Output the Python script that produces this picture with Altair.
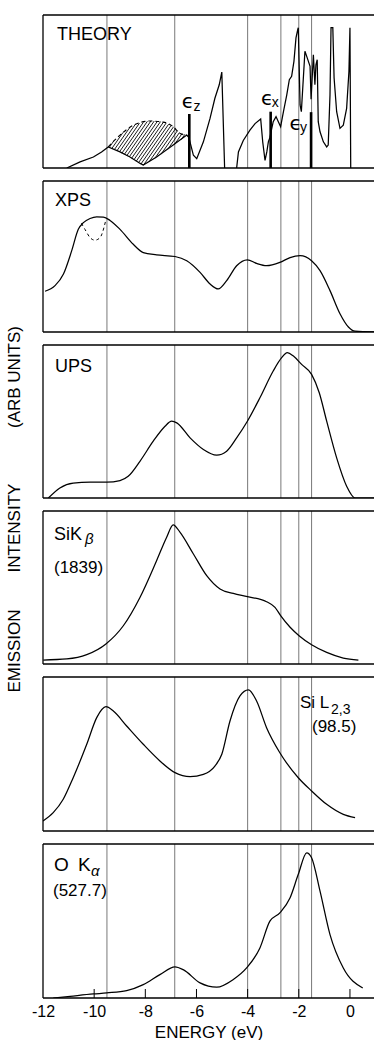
import altair as alt
import numpy as np
import pandas as pd

# ---------------- data ----------------
guide_E = [-9.5, -6.85, -4.0, -2.7, -2.0, -1.5]
tick_E = [-10, -8, -6, -4, -2, 0]
axis_values = [-12, -10, -8, -6, -4, -2, 0]

# THEORY (arb. units 0-100)
theory_a_E = [-11.07, -10.55, -10.03, -9.71, -9.45, -8.99, -8.6, -8.2, -8.08, -7.56, -6.91, -6.38,
              -6.3, -6.12, -5.99, -5.73, -5.47, -5.28, -5.11, -5.01, -4.9]
theory_a_I = [0, 4, 7.2, 10.5, 13.8, 10.5, 7.2, 3.0, 2.0, 7.2, 15.0, 21.5,
              20, 8.3, 6.1, 17.1, 32.4, 45.6, 54.4, 62.7, 0]
theory_b_E = [-4.43, -4.36, -4.17, -3.91, -3.71, -3.49, -3.41, -3.32, -3.25, -3.19, -3.13, -3.0,
              -2.89, -2.8, -2.71, -2.6, -2.47, -2.37, -2.28, -2.19, -2.11, -2.04, -2.02, -1.95,
              -1.9, -1.76, -1.67, -1.56, -1.52, -1.43, -1.37, -1.33, -1.28, -1.24, -1.17, -1.04,
              -0.91, -0.85, -0.78, -0.74, -0.67, -0.62, -0.52, -0.39, -0.26, -0.13, -0.04, 0.0, 0.03]
theory_b_I = [0, 10.5, 18, 24.8, 29, 32, 17, 5, 10.5, 17, 20, 30.3,
              33.6, 30.3, 27, 36.8, 47.8, 57.7, 59.9, 69.7, 85, 90.6, 91.7, 41.2,
              36.8, 76.3, 72, 66.4, 45, 74, 54.4, 67.5, 70.8, 30.3, 23.7, 17.1,
              13.8, 15, 47.8, 91.7, 91.7, 58.8, 36.8, 25.9, 28, 39, 63, 91.7, 0]
hatch_upper_E = [-9.45, -8.99, -8.47, -7.82, -7.3, -6.91, -6.64, -6.38]
hatch_upper_I = [13.8, 21.5, 28.0, 30.7, 30.0, 27.0, 22.6, 21.5]
eps_E = [-6.28, -3.10, -1.52]
eps_I = [35.3, 36.8, 36.5]

# XPS
xps_E = [-11.92, -11.53, -11.2, -10.88, -10.62, -10.42, -10.16, -9.9, -9.64, -9.38, -8.99, -8.47,
         -8.08, -7.56, -6.84, -6.38, -5.86, -5.47, -5.15, -4.82, -4.43, -4.01, -3.65, -3.26,
         -2.74, -2.34, -1.95, -1.5, -1.17, -0.78, -0.39, -0.06, 0.2, 0.95]
xps_I = [27, 30.7, 38.4, 53.7, 68, 72.4, 75.2, 76.3, 76.1, 73.9, 68, 58.1,
         52.6, 51.1, 50, 47.2, 39.5, 31.8, 28.5, 34, 43.9, 47.8, 45.4, 43.9,
         46.1, 49.3, 50.5, 47.2, 40.6, 27.4, 12.1, 3.3, 0.5, 0]
xps_dash_E = [-10.5, -10.36, -10.16, -9.97, -9.77, -9.62, -9.54]
xps_dash_I = [72, 68, 62.5, 60.8, 62.5, 69, 74.5]

# UPS
ups_E = [-11.79, -11.34, -10.82, -10.16, -9.51, -8.99, -8.67, -8.21, -7.69, -7.23, -6.97, -6.77,
         -6.25, -5.73, -5.21, -4.82, -4.43, -4.01, -3.52, -3.0, -2.67, -2.45, -2.21, -1.89,
         -1.5, -1.2, -0.91, -0.52, -0.13, 0.2, 0.95]
ups_I = [0, 6.6, 9.8, 10.3, 10.3, 11.4, 14.2, 24, 37.1, 46.9, 50.2, 49.1,
         39.3, 31.7, 28, 30.6, 39.3, 50.2, 65.5, 83, 91.7, 95, 92.8, 87.3,
         80.8, 68.8, 50.2, 26.2, 7.7, 0, 0]

# Si K-beta
sikb_E = [-11.99, -11.07, -10.29, -9.54, -8.86, -8.21, -7.56, -7.17, -6.91, -6.64, -6.12, -5.6,
          -5.08, -4.56, -4.01, -3.26, -2.93, -2.71, -2.34, -1.99, -1.5, -0.91, -0.26, 0.33]
sikb_I = [2.6, 3.3, 6.1, 13.1, 25, 43.5, 67.5, 82.7, 91, 86, 71.9, 57.7,
          49, 46.1, 44, 40.7, 37, 31.6, 24, 18.5, 12.6, 7.6, 3.9, 2.6]

# Si L2,3
sil_E = [-12.0, -11.6, -11.21, -10.82, -10.29, -9.9, -9.54, -9.25, -8.73, -8.08, -7.43, -6.84,
         -6.25, -5.73, -5.28, -5.01, -4.69, -4.3, -3.97, -3.65, -3.26, -2.74, -2.02, -1.5,
         -0.91, -0.26, 0.2]
sil_I = [6.5, 11.9, 20.6, 34.6, 56.3, 73.6, 80.7, 77.9, 68.2, 56.3, 45.5, 37.9,
         35.3, 36.8, 42.2, 49.8, 71.4, 87.7, 91.6, 84.4, 67.1, 50.8, 34.6, 26,
         17.3, 10.8, 8.7]

# O K-alpha
oka_E = [-11.6, -10.94, -10.03, -9.51, -8.73, -8.08, -7.43, -6.84, -6.52, -5.86, -5.21, -4.56,
         -4.04, -3.52, -3.13, -2.74, -2.34, -2.02, -1.69, -1.5, -1.17, -0.78, -0.26, 0.5]
oka_I = [0, 1.1, 2.6, 3.3, 4.8, 8.7, 15.2, 20.2, 18.4, 9.8, 7, 12,
         19.5, 32.5, 49.9, 55.3, 65.1, 80.3, 94.3, 91.1, 69.4, 41.2, 19.5, 6.5]

# ---------------- layout / style ----------------
FONT = "Liberation Sans"
W = 331
HEIGHTS = [153, 151, 153, 153, 154, 154]
SPACING = 13
E_DOMAIN = [-12, 0.94]
xsc = alt.Scale(domain=E_DOMAIN, nice=False, zero=False)
ysc = alt.Scale(domain=[0, 100], nice=False, zero=False)
NOVIEW = alt.ViewBackground(stroke="transparent", strokeWidth=0)

BOTTOM_AXIS = alt.Axis(values=axis_values, ticks=False, domain=False, grid=False,
                       labelExpr="'' + datum.value", labelFontSize=16, labelFont=FONT,
                       labelColor="black", labelPadding=5, labelFlush=False,
                       title="ENERGY (eV)", titleFont=FONT, titleFontSize=17,
                       titleFontWeight="normal", titleColor="black", titlePadding=5)


def xenc(field, last):
    if last:
        return alt.X(field, scale=xsc, axis=BOTTOM_AXIS)
    return alt.X(field, scale=xsc, axis=None)


def yenc(field):
    return alt.Y(field, scale=ysc, axis=None)


def frame(h):
    base = alt.Chart(pd.DataFrame({"a": [0]}))
    st = dict(color="black", strokeWidth=1.3)
    left = base.mark_rule(**st).encode(x=alt.value(0), y=alt.value(0), y2=alt.value(h))
    top = base.mark_rule(**st).encode(x=alt.value(0), x2=alt.value(W), y=alt.value(0))
    bot = base.mark_rule(**st).encode(x=alt.value(0), x2=alt.value(W), y=alt.value(h))
    return [left, top, bot]


def guides(last):
    return alt.Chart(pd.DataFrame({"E": guide_E})).mark_rule(
        color="#555", strokeWidth=0.8).encode(x=xenc("E:Q", last))


def curve(E, I, last=False, interp="monotone", dash=None, width=1.25):
    df = pd.DataFrame({"E": E, "I": I, "k": range(len(E))})
    kw = dict(color="black", strokeWidth=width, interpolate=interp, clip=True)
    if dash:
        kw["strokeDash"] = dash
    return alt.Chart(df).mark_line(**kw).encode(
        x=xenc("E:Q", last), y=yenc("I:Q"), order=alt.Order("k:Q"))


def ptext(s, x, y, size=18, style="normal", font=FONT):
    return alt.Chart(pd.DataFrame({"t": [s]})).mark_text(
        align="left", baseline="alphabetic", fontSize=size, font=font,
        fontStyle=style, color="black").encode(x=alt.value(x), y=alt.value(y), text="t:N")


def dtext(s, E, I, size=18, font=FONT):
    return alt.Chart(pd.DataFrame({"t": [s], "E": [E], "I": [I]})).mark_text(
        align="left", baseline="alphabetic", fontSize=size, font=font,
        color="black").encode(x=xenc("E:Q", False), y=yenc("I:Q"), text="t:N")


# ---------- THEORY panel ----------
h0 = HEIGHTS[0]
lo_mask = [(e >= -9.45) and (e <= -6.38) for e in theory_a_E]
lo_E = [e for e, m in zip(theory_a_E, lo_mask) if m]
lo_I = [v for v, m in zip(theory_a_I, lo_mask) if m]
fine = np.linspace(-9.45, -6.38, 600)
lo_f = np.interp(fine, lo_E, lo_I)
up_f = np.interp(fine, hatch_upper_E, hatch_upper_I)
slope = 24.0  # hatch direction (about 55 degrees on screen)
segs = []
for s in np.arange(-10.1, -7.1, 0.13):
    line = slope * (fine - s)
    idx = np.where((line >= lo_f - 0.3) & (line <= up_f + 0.3))[0]
    if len(idx) >= 2:
        segs.append({"E1": fine[idx[0]], "I1": line[idx[0]],
                     "E2": fine[idx[-1]], "I2": line[idx[-1]]})
hatch = alt.Chart(pd.DataFrame(segs)).mark_rule(color="black", strokeWidth=0.9).encode(
    x=xenc("E1:Q", False), x2="E2:Q", y=yenc("I1:Q"), y2="I2:Q")

eps = alt.Chart(pd.DataFrame({"E": eps_E, "I": eps_I, "z": [0, 0, 0]})).mark_rule(
    color="black", strokeWidth=2.6).encode(x=xenc("E:Q", False), y=yenc("z:Q"), y2="I:Q")

theory = alt.layer(
    guides(False),
    hatch,
    curve(hatch_upper_E, hatch_upper_I, interp="monotone", dash=[4, 3], width=1.1),
    curve(theory_a_E, theory_a_I, interp="linear"),
    curve(theory_b_E, theory_b_I, interp="linear"),
    eps,
    ptext("THEORY", 14, 25),
    dtext("ϵ", -6.58, 39.0, size=20, font="DejaVu Sans"),
    dtext("z", -6.12, 37.5, size=14),
    dtext("ϵ", -3.48, 41.2, size=20, font="DejaVu Sans"),
    dtext("x", -3.06, 40.0, size=14),
    dtext("ϵ", -2.36, 24.8, size=20, font="DejaVu Sans"),
    dtext("y", -1.95, 23.5, size=14),
    *frame(h0),
).properties(width=W, height=h0, view=NOVIEW)

# ---------- XPS ----------
xps = alt.layer(
    guides(False),
    curve(xps_E, xps_I),
    curve(xps_dash_E, xps_dash_I, dash=[3, 3], width=1.0),
    ptext("XPS", 12, 25),
    *frame(HEIGHTS[1]),
).properties(width=W, height=HEIGHTS[1], view=NOVIEW)

# ---------- UPS ----------
ups = alt.layer(
    guides(False),
    curve(ups_E, ups_I),
    ptext("UPS", 12, 27),
    *frame(HEIGHTS[2]),
).properties(width=W, height=HEIGHTS[2], view=NOVIEW)

# ---------- Si K beta ----------
sikb = alt.layer(
    guides(False),
    curve(sikb_E, sikb_I),
    ptext("SiK", 11, 29),
    ptext("β", 42, 33, size=15, style="italic"),
    ptext("(1839)", 11, 62, size=17),
    *frame(HEIGHTS[3]),
).properties(width=W, height=HEIGHTS[3], view=NOVIEW)

# ---------- Si L2,3 ----------
sil = alt.layer(
    guides(False),
    curve(sil_E, sil_I),
    ptext("Si L", 257, 31, size=17),
    ptext("2,3", 288, 37, size=14),
    ptext("(98.5)", 269, 55, size=17),
    *frame(HEIGHTS[4]),
).properties(width=W, height=HEIGHTS[4], view=NOVIEW)

# ---------- O K alpha ----------
h5 = HEIGHTS[5]
ticks = alt.Chart(pd.DataFrame({"E": tick_E})).mark_rule(color="black", strokeWidth=1).encode(
    x=xenc("E:Q", True), y=alt.value(h5), y2=alt.value(h5 - 9))
oka = alt.layer(
    guides(True),
    curve(oka_E, oka_I, last=True),
    ticks,
    ptext("O", 11, 27, size=19),
    ptext("K", 35, 27, size=19),
    ptext("α", 48, 32, size=15, style="italic"),
    ptext("(527.7)", 10, 52, size=17),
    *frame(h5),
).properties(width=W, height=h5, view=NOVIEW)

panels = alt.vconcat(theory, xps, ups, sikb, sil, oka, spacing=SPACING, bounds="flush")

total_h = sum(HEIGHTS) + SPACING * (len(HEIGHTS) - 1)
ytitle_words = ["EMISSION", "INTENSITY", "(ARB UNITS)"]
ytitle_centres = [636, 513, 362]
ttl_layers = [
    alt.Chart(pd.DataFrame({"t": [w]})).mark_text(
        angle=270, align="center", baseline="middle", fontSize=17, font=FONT, color="black"
    ).encode(x=alt.value(15), y=alt.value(c), text="t:N")
    for w, c in zip(ytitle_words, ytitle_centres)
]
ytitle = alt.layer(*ttl_layers).properties(width=43, height=total_h, view=NOVIEW)

chart = alt.hconcat(ytitle, panels, spacing=0, bounds="flush").properties(
    padding={"left": 0, "top": 14, "right": 0, "bottom": 0}
).configure_view(stroke="transparent", strokeWidth=0).configure(background="white")

chart.save("out.html", embed_options={"renderer": "svg", "actions": False})
